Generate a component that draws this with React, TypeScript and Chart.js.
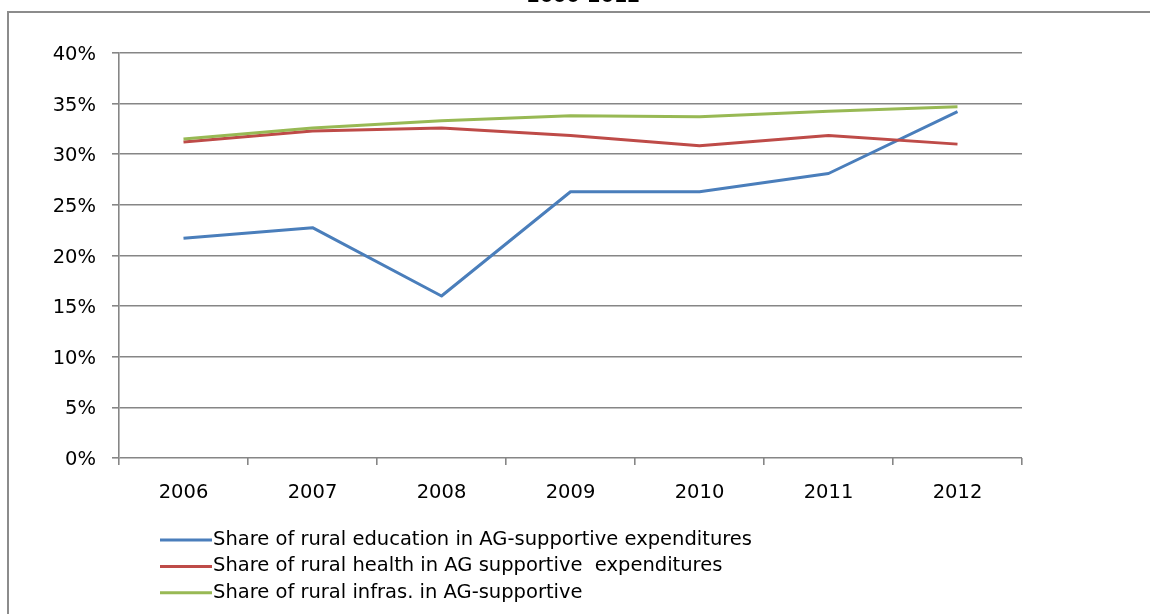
import React, { useEffect, useRef } from 'react';
import { Chart, registerables } from 'chart.js';

Chart.register(...registerables);

const chartTitle = '2006-2012';
const years = ['2006', '2007', '2008', '2009', '2010', '2011', '2012'];
const educationShare = [21.7, 22.75, 16.0, 26.3, 26.3, 28.1, 34.2];
const healthShare = [31.2, 32.3, 32.6, 31.85, 30.85, 31.85, 31.0];
const infrasShare = [31.5, 32.6, 33.3, 33.8, 33.7, 34.25, 34.7];
const seriesLabels = [
  'Share of rural education in AG-supportive expenditures',
  'Share of rural health in AG supportive  expenditures',
  'Share of rural infras. in AG-supportive',
];
const seriesColors = ['#4A7EBB', '#BE4B48', '#98B954'];
const yMin = 0;
const yMax = 40;
const yStep = 5;

const FONT = '"DejaVu Sans", sans-serif';
const GRID = '#868686';
const FONT_SIZE = 19.5;

const verticalLegend = {
  id: 'verticalLegend',
  afterDraw(chart: any) {
    const { ctx, chartArea } = chart;
    ctx.save();
    chart.data.datasets.forEach((ds: any, i: number) => {
      const y = chartArea.bottom + 82 + i * 26.4;
      const x0 = chartArea.left + 41;
      ctx.strokeStyle = ds.borderColor;
      ctx.lineWidth = 3;
      ctx.beginPath();
      ctx.moveTo(x0, y);
      ctx.lineTo(x0 + 52, y);
      ctx.stroke();
      ctx.fillStyle = '#000';
      ctx.font = `${FONT_SIZE}px ${FONT}`;
      ctx.textBaseline = 'middle';
      ctx.textAlign = 'left';
      ctx.fillText(ds.label, x0 + 53, y);
    });
    ctx.restore();
  },
};

export default function App() {
  const canvasRef = useRef<HTMLCanvasElement | null>(null);

  useEffect(() => {
    if (!canvasRef.current) return;
    const seriesData = [educationShare, healthShare, infrasShare];
    const chart = new Chart(canvasRef.current, {
      type: 'line',
      data: {
        labels: years,
        datasets: seriesData.map((d, i) => ({
          label: seriesLabels[i],
          data: d,
          borderColor: seriesColors[i],
          backgroundColor: seriesColors[i],
          borderWidth: 3,
          pointRadius: 0,
          pointHoverRadius: 0,
          tension: 0,
          fill: false,
          borderJoinStyle: 'round' as const,
          order: 3 - i,
        })),
      },
      options: {
        responsive: false,
        animation: false,
        devicePixelRatio: 1,
        layout: { padding: { top: 53, right: 128, bottom: 96, left: 0 } },
        plugins: {
          legend: { display: false },
          title: { display: false },
          tooltip: { enabled: false },
        },
        scales: {
          x: {
            type: 'category',
            offset: true,
            border: { display: false },
            grid: {
              offset: true,
              drawOnChartArea: false,
              drawTicks: true,
              tickLength: 7,
              color: GRID,
              lineWidth: 1.6,
            },
            ticks: {
              color: '#000',
              font: { family: FONT, size: FONT_SIZE, lineHeight: 1.2 },
              padding: 16,
              maxRotation: 0,
              autoSkip: false,
            },
            afterFit: (scale: any) => {
              scale.height = 60;
            },
          },
          y: {
            min: yMin,
            max: yMax,
            border: { display: true, color: GRID, width: 1.6 },
            grid: {
              color: GRID,
              lineWidth: 1.6,
              drawTicks: true,
              tickLength: 7,
            },
            ticks: {
              stepSize: yStep,
              color: '#000',
              font: { family: FONT, size: FONT_SIZE },
              padding: 16,
              labelOffset: 2,
              callback: (v: any) => `${v}%`,
            },
            afterFit: (scale: any) => {
              scale.width = 119;
            },
          },
        },
      },
      plugins: [verticalLegend],
    });
    return () => chart.destroy();
  }, []);

  return (
    <div
      style={{
        position: 'fixed',
        left: 0,
        top: 0,
        width: 1150,
        height: 614,
        overflow: 'hidden',
        background: '#fff',
      }}
    >
      <canvas
        ref={canvasRef}
        width={1150}
        height={614}
        style={{ position: 'absolute', left: 0, top: 0, display: 'block' }}
      />
      <div
        style={{
          position: 'absolute',
          left: 7,
          top: 11,
          width: 1160,
          height: 700,
          border: '2px solid #8c8c8c',
          pointerEvents: 'none',
        }}
      />
      <div
        style={{
          position: 'absolute',
          left: 0,
          top: -14,
          width: 1167,
          textAlign: 'center',
          fontFamily: FONT,
          fontWeight: 'bold',
          fontSize: 19,
          lineHeight: '19px',
          color: '#000',
        }}
      >
        {chartTitle}
      </div>
    </div>
  );
}
